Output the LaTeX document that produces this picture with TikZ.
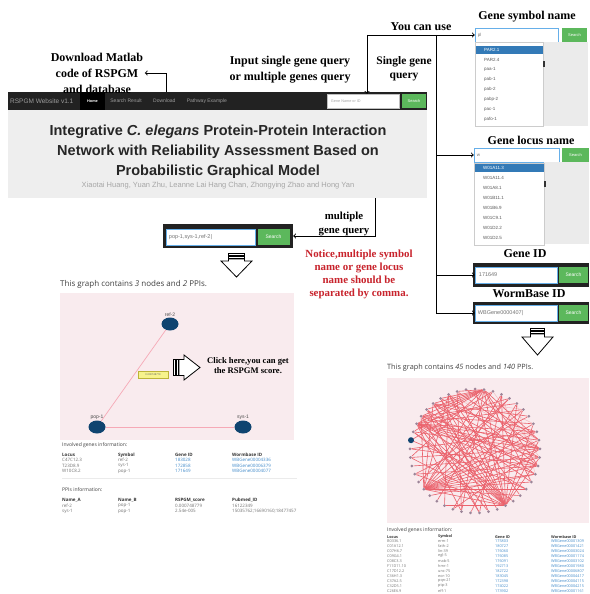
\documentclass[tikz,border=0pt]{standalone}
\usepackage{fontspec}
\setmainfont{Liberation Serif}
\newfontfamily\websans{Liberation Sans}
\newfontfamily\pagesans{Open Sans}
\usepackage{xcolor}
\usetikzlibrary{calc}
\usetikzlibrary{shapes.geometric}
\usetikzlibrary{positioning}

\definecolor{navbg}{HTML}{222222}
\definecolor{navtxt}{HTML}{9D9D9D}
\definecolor{btngreen}{HTML}{5CB85C}
\definecolor{jumbo}{HTML}{EEEEEE}
\definecolor{graphpink}{HTML}{F9EBEE}
\definecolor{nodeblue}{HTML}{0F4470}
\definecolor{smalldot}{HTML}{9C8498}
\definecolor{ppired}{HTML}{E8404C}
\definecolor{edgepink}{HTML}{F6A9B6}
\definecolor{notered}{HTML}{C8232C}
\definecolor{linkblue}{HTML}{428BCA}
\definecolor{pickblue}{HTML}{337AB7}
\definecolor{menugray}{HTML}{EBEBEB}
\definecolor{focusblue}{HTML}{66AFE9}
\definecolor{scoreyellow}{HTML}{F7F38C}

\newcommand{\setfs}[2]{\fontsize{#1}{#2}\selectfont}

\tikzset{
  note/.style={font=\bfseries\setfs{12}{16}, align=center, inner sep=1.5pt},
  link/.style={->, line width=0.9pt},
  navtext/.style={font=\websans\setfs{5}{6}, text=navtxt, inner sep=0pt, anchor=west},
  inputbox/.style={fill=white, draw=focusblue, line width=0.5pt, inner sep=0pt},
  inputtext/.style={font=\websans\setfs{4.5}{5}, text=black!55, inner sep=0pt},
  searchbtn/.style={fill=btngreen, text=white, font=\websans\setfs{4}{5}, inner sep=0pt},
  darkframe/.style={fill=navbg, inner sep=0pt},
  menubox/.style={fill=white, draw=black!20, line width=0.4pt, anchor=north west, inner sep=0pt},
  menuitem/.style={font=\websans\setfs{4.5}{5}, text=black!65, anchor=west, inner sep=0pt},
  panel/.style={fill=graphpink, anchor=north west, inner sep=0pt},
  ppinode/.style={ellipse, fill=nodeblue, minimum width=17pt, minimum height=13pt, inner sep=0pt},
  ppilabel/.style={font=\websans\setfs{5}{6}, text=black!70, inner sep=0.5pt},
  dotnode/.style={circle, fill=smalldot, minimum size=3pt, inner sep=0pt},
  ppiline/.style={ppired!80!graphpink, line width=0.6pt},
  ppifaint/.style={ppired!30!graphpink, line width=0.4pt},
  pagetext/.style={font=\pagesans\setfs{8}{9}, text=black!75, anchor=west, inner sep=0pt},
  tabhead/.style={font=\pagesans\bfseries\setfs{4.5}{5}, text=black!80, anchor=west, inner sep=0pt},
  tabcell/.style={font=\pagesans\setfs{4.5}{5}, text=black!55, anchor=west, inner sep=0pt},
  tablink/.style={tabcell, text=linkblue},
  blockarrow/.style={fill=white, draw=black, line width=0.8pt},
}

\begin{document}
\begin{tikzpicture}[x=1pt, y=-1pt]
\useasboundingbox (0,0) rectangle (589,594);
% Page background and graph panels
\fill[white] (0,0) rectangle (589,594);
\node[panel, minimum width=234pt, minimum height=147pt] (leftpanel) at (60,293) {};
\node[panel, minimum width=202pt, minimum height=145pt] (rightpanel) at (387,378) {};

% Large graph (45 nodes on a ring)
\foreach \gx/\gy [count=\j from 0] in {475/389, 484.0/389.6, 492.9/391.4, 501.4/394.4, 509.4/398.4,
    516.8/403.5, 523.3/409.5, 528.9/416.3, 533.4/423.8, 536.8/431.8, 539.0/440.2, 540.0/448.8,
    539.6/457.5, 538.1/466.0, 535.3/474.2, 531.3/482.0, 526.2/489.2, 520.2/495.6, 513.2/501.2,
    505.5/505.7, 497.2/509.3, 488.5/511.6, 479.5/512.9, 470.5/512.9, 461.5/511.6, 452.8/509.3,
    444.5/505.7, 436.8/501.2, 429.8/495.6, 423.8/489.2, 418.7/482.0, 414.7/474.2, 411.9/466.0,
    410.4/457.5, 410.0/448.8, 411.0/440.2, 413.2/431.8, 416.6/423.8, 421.1/416.3, 426.7/409.5,
    433.2/403.5, 440.6/398.4, 448.6/394.4, 457.1/391.4, 466.0/389.6}
  \node[dotnode] (g\j) at (\gx,\gy) {};
\foreach \a/\b in {0/11,2/12,5/14,44/8,42/10,3/15,41/6,39/2}
  \draw[ppifaint] (g\a) -- (g\b);
\foreach \a/\b in {29/1,29/2,29/4,29/6,29/8,29/9,29/10,29/11,29/12,29/13,29/14,29/15,29/16,29/17,29/19,29/38,29/40,29/42,
    19/1,19/3,19/5,19/0,19/36,19/37,19/38,19/39,19/40,19/41,19/42,19/43,19/33,19/31,19/8,19/10,19/12,19/26,
    1/36,1/37,1/38,1/39,1/40,1/41,1/43,1/10,1/13,1/15,1/24,1/33,
    37/4,37/6,37/9,37/10,37/11,37/12,37/13,37/14,37/16,37/21,37/24,
    38/5,38/8,38/11,38/13,38/22,40/7,40/9,40/12,40/14,40/20,
    11/41,11/36,11/33,11/25,11/43,13/34,13/31,13/42,
    3/27,5/25,7/31,9/34,6/23,15/39,2/35,4/30,21/41,16/35,10/44,24/43,26/42,22/39,18/36,17/42,12/32,3/22,14/28}
  \draw[ppiline] (g\a) -- (g\b);
\node[dotnode, fill=nodeblue, minimum size=6pt] (picked) at (g35) {};
\node[pagetext, font=\pagesans\setfs{7.3}{8}] (bighead) at (387,368) {This graph contains \textit{45} nodes and \textit{140} PPIs.};

% Navigation bar (node)
\node[darkframe, anchor=north west, minimum width=419pt, minimum height=18pt] (navbar) at (8,92) {};
\node[navtext, font=\websans\setfs{6.5}{7}] (brand) at (10,101) {RSPGM Website v1.1};
\node[fill=black, minimum width=25pt, minimum height=18pt, inner sep=0pt, text=white, font=\websans\bfseries\setfs{3.8}{4}] (home) at (92.5,101) {Home};
\node[navtext, right=5pt of home] (navsearch) {Search Result};
\node[navtext, right=11pt of navsearch] (navdown) {Download};
\node[navtext, right=11pt of navdown] (navpath) {Pathway Example};
\node[inputbox, draw=black!25, minimum width=72pt, minimum height=14pt] (topin) at (363,101) {};
\node[inputtext, text=black!35, font=\websans\setfs{3.8}{4}, right=4pt of topin.west] (topph) {Gene Name or ID};
\node[searchbtn, minimum width=24pt, minimum height=14pt] (topbtn) at (414,101) {Search};

% Title panel (node)
\node[fill=jumbo, anchor=north west, minimum width=419pt, minimum height=88pt, inner sep=0pt] (jumbo) at (8,110) {};
\node[font=\websans\bfseries\setfs{14.5}{20}, text=black!85, align=center] (title) at (218,152)
  {Integrative \textit{C. elegans} Protein-Protein Interaction\\Network with Reliability Assessment Based on\\Probabilistic Graphical Model};
\node[font=\websans\setfs{7.5}{8}, text=black!35] (authors) at (218,186)
  {Xiaotai Huang, Yuan Zhu, Leanne Lai Hang Chan, Zhongying Zhao and Hong Yan};

% Notes
\node[note] (dlnote) at (97,73) {Download Matlab\\code of RSPGM\\and database};
\node[note] (inputnote) at (290,70) {Input single gene query\\or multiple genes query};
\node[note, font=\bfseries\setfs{11.5}{14}] (singlenote) at (404,69) {Single gene\\query};
\node[note] (youcan) at (421,27) {You can use};
\node[note, font=\bfseries\setfs{10.8}{14}] (multinote) at (344,224) {multiple\\gene query};
\node[note, font=\bfseries\setfs{10.9}{13}, text=notered] (notice) at (359,274)
  {Notice,multiple symbol\\name or gene locus\\name should be\\separated by comma.};
\node[note, font=\bfseries\setfs{8.6}{10}] (clicknote) at (248,366) {Click here,you can get\\the RSPGM score.};
\node[note] (symtitle) at (527,17) {Gene symbol name};
\node[note] (locustitle) at (531,140) {Gene locus name};
\node[note] (idtitle) at (525,254) {Gene ID};
\node[note] (wbtitle) at (529,294) {WormBase ID};

% Multiple gene search box (node)
\node[darkframe, minimum width=130pt, minimum height=24pt] (multibox) at (228,236) {};
\node[inputbox, minimum width=89pt, minimum height=16pt] (multiin) at (210.5,237) {};
\node[inputtext, font=\websans\setfs{5.5}{6}, right=3pt of multiin.west] (multitext) {pop-1,sys-1,ref-2|};
\node[searchbtn, font=\websans\setfs{5}{6}, minimum width=32pt, minimum height=16pt] (multibtn) at (273.5,237) {Search};

% Gene symbol search with menu (node)
\node[inputbox, minimum width=83pt, minimum height=14pt] (symin) at (516.5,35) {};
\node[inputtext, right=3pt of symin.west] (symtext) {pl};
\node[searchbtn, minimum width=25pt, minimum height=14pt] (symbtn) at (574.5,35) {Search};
\node[fill=menugray, anchor=north west, minimum width=45pt, minimum height=84pt, inner sep=0pt] (symshade) at (543,42) {};
\node[menubox, minimum width=68pt, minimum height=84pt] (symmenu) at (475,42) {};
\node[fill=black!80, minimum width=1.2pt, minimum height=6pt, inner sep=0pt] (symmark) at (544,64) {};
\node[fill=pickblue, anchor=north west, minimum width=67pt, minimum height=8pt, inner sep=0pt] (symhl) at (475.5,45.5) {};
\node[menuitem, text=white] (sym1) at (484,49.5) {PAR2.1};
\foreach \t [count=\k from 2] in {PAR2.4, paa-1, pab-1, pab-2, pabp-2, pac-1, pafo-1}
  \node[menuitem] (sym\k) at (484,39.5+10*\k) {\t};

% Gene locus search with menu (node)
\node[inputbox, minimum width=85pt, minimum height=14pt] (locusin) at (516.5,155) {};
\node[inputtext, right=3pt of locusin.west] (locustext) {w};
\node[searchbtn, minimum width=27pt, minimum height=14pt] (locusbtn) at (575.5,155) {Search};
\node[fill=menugray, anchor=north west, minimum width=45pt, minimum height=82pt, inner sep=0pt] (locusshade) at (544,162) {};
\node[menubox, minimum width=70pt, minimum height=82pt] (locusmenu) at (474,163) {};
\node[fill=black!80, minimum width=1.2pt, minimum height=6pt, inner sep=0pt] (locusmark) at (545,184) {};
\node[fill=pickblue, anchor=north west, minimum width=69pt, minimum height=8pt, inner sep=0pt] (locushl) at (474.5,164) {};
\node[menuitem, text=white] (locus1) at (483,168) {W01A11.3};
\foreach \t [count=\k from 2] in {W01A11.4, W01A8.1, W01B11.1, W01B6.9, W01C9.1, W01D2.2, W01D2.5}
  \node[menuitem] (locus\k) at (483,158+10*\k) {\t};

% Gene ID search (node)
\node[darkframe, minimum width=116pt, minimum height=24pt] (idframe) at (531,275) {};
\node[inputbox, minimum width=82pt, minimum height=16pt] (idin) at (516,275) {};
\node[inputtext, font=\websans\setfs{5.5}{6}, right=4pt of idin.west] (idtext) {171649};
\node[searchbtn, font=\websans\setfs{5}{6}, minimum width=29pt, minimum height=16pt] (idbtn) at (573.5,275) {Search};

% WormBase ID search (node)
\node[darkframe, minimum width=116pt, minimum height=22pt] (wbframe) at (531,313) {};
\node[inputbox, minimum width=82pt, minimum height=16pt] (wbin) at (516,313) {};
\node[inputtext, font=\websans\setfs{5.5}{6}, right=3pt of wbin.west] (wbtext) {WBGene0000407|};
\node[searchbtn, font=\websans\setfs{5}{6}, minimum width=29pt, minimum height=16pt] (wbbtn) at (573.5,313) {Search};

% Connectors
\coordinate (dlfoot) at (166,92);
\draw[link] (dlfoot) |- (dlnote.east);
\coordinate (fork) at (367,35);
\draw[link] (fork) -- (fork |- topin.north);
\draw[link] (fork) -- (symin.west);
\coordinate (trunk) at (436,35);
\draw[link] (trunk) |- (wbin.west);
\draw[link] (trunk |- locusin) -- (locusin.west);
\draw[link] (trunk |- idin) -- (idin.west);
\coordinate (mqtop) at (375,198);
\draw[link] (mqtop) |- (multibox.east);

% Striped block arrows
\begin{scope}[shift={(236.5,253)}]
\draw[blockarrow] (-8,0) rectangle (8,2);
\draw[blockarrow] (-8,3) rectangle (8,5);
\draw[blockarrow] (-8,6) -- (8,6) -- (8,8) -- (15.5,8) -- (0,24) -- (-15.5,8) -- (-8,8) -- cycle;
\end{scope}
\begin{scope}[shift={(537.5,328)}]
\draw[blockarrow] (-7,0) rectangle (7,2);
\draw[blockarrow] (-7,3) rectangle (7,5);
\draw[blockarrow] (-7,6) -- (7,6) -- (7,9) -- (15.5,9) -- (0,27) -- (-15.5,9) -- (-7,9) -- cycle;
\end{scope}
\begin{scope}[shift={(173,367.5)}]
\draw[blockarrow] (0,-8) rectangle (2,8);
\draw[blockarrow] (3,-8) rectangle (5,8);
\draw[blockarrow] (6,-8) -- (11,-8) -- (11,-12.5) -- (27,0) -- (11,12.5) -- (11,8) -- (6,8) -- cycle;
\end{scope}

% Small graph (3 nodes)
\node[pagetext] (smallhead) at (60,284) {This graph contains \textit{3} nodes and \textit{2} PPIs.};
\node[ppinode] (ref2) at (170,324) {};
\node[ppinode] (pop1) at (97,427) {};
\node[ppinode] (sys1) at (243,427) {};
\node[ppilabel, above=0pt of ref2] (ref2lab) {ref-2};
\node[ppilabel, above=0pt of pop1] (pop1lab) {pop-1};
\node[ppilabel, above=0pt of sys1] (sys1lab) {sys-1};
\draw[edgepink, line width=0.7pt] (ref2) -- (pop1);
\draw[edgepink, line width=0.7pt] (pop1) -- (sys1);
\node[fill=scoreyellow, draw=yellow!70!black, line width=0.2pt, minimum width=30pt, minimum height=7pt, inner sep=0pt,
  font=\websans\setfs{2.6}{3}, text=black!60] (score) at (153,374.5) {0.000748779};

% Small graph tables
\node[pagetext, font=\pagesans\setfs{5}{6}] (geneinfo) at (62,445) {Involved genes information:};
\node[tabhead] (hlocus) at (62,455) {Locus};
\node[tabhead] (hsymbol) at (118,455) {Symbol};
\node[tabhead] (hgeneid) at (175,455) {Gene ID};
\node[tabhead] (hwb) at (232,455) {Wormbase ID};
\foreach \loc/\sym/\gid/\wb [count=\n] in {C47C12.3/ref-2/183028/WBGene00004336,
    T23D8.9/sys-1/172858/WBGene00006379, W10C8.2/pop-1/171649/WBGene00004077} {
  \node[tabcell] (tloc\n) at (62,454.5+5.5*\n) {\loc};
  \node[tabcell] (tsym\n) at (118,454.5+5.5*\n) {\sym};
  \node[tablink] (tgid\n) at (175,454.5+5.5*\n) {\gid};
  \node[tablink] (twb\n) at (232,454.5+5.5*\n) {\wb};
}
\draw[black!8, line width=0.5pt] (62,478) -- (297,478);
\node[pagetext, font=\pagesans\setfs{5}{6}] (ppiinfo) at (62,490) {PPIs information:};
\node[tabhead] (hnamea) at (62,500) {Name\_A};
\node[tabhead] (hnameb) at (118,500) {Name\_B};
\node[tabhead] (hscore) at (175,500) {RSPGM\_score};
\node[tabhead] (hpubmed) at (232,500) {Pubmed\_ID};
\node[tabcell] (na1) at (62,505.5) {ref-2};
\node[tabcell] (nb1) at (118,505.5) {pop-1};
\node[tabcell] (sc1) at (175,505.5) {0.000748779};
\node[tabcell] (pm1) at (232,505.5) {16122349};
\node[tabcell] (na2) at (62,511) {sys-1};
\node[tabcell] (nb2) at (118,511) {pop-1};
\node[tabcell] (sc2) at (175,511) {2.54e-005};
\node[tabcell] (pm2) at (232,511) {15035762;16690160;18477457};

% Large graph table
\node[pagetext, font=\pagesans\setfs{5}{6}] (biginfo) at (387,530) {Involved genes information:};
\node[tabhead, font=\pagesans\bfseries\setfs{3.8}{4}] (blocus) at (387,537) {Locus};
\node[tabhead, font=\pagesans\bfseries\setfs{3.8}{4}] (bsymbol) at (438,537) {Symbol};
\node[tabhead, font=\pagesans\bfseries\setfs{3.8}{4}] (bgeneid) at (495,537) {Gene ID};
\node[tabhead, font=\pagesans\bfseries\setfs{3.8}{4}] (bwb) at (551,537) {Wormbase ID};
\foreach \loc/\sym/\gid/\wb [count=\n] in {B0336.1/erm-1/175803/WBGene00001309,
    C01A12.1/fath-2/180727/WBGene00001421, C07H6.7/lin-39/176060/WBGene00003024,
    C09G4.1/egl-5/176085/WBGene00001174, C08C3.3/mab-5/176091/WBGene00003102,
    F11D11.10/hmr-1/192713/WBGene00001980, C17D12.2/unc-75/182722/WBGene00006807,
    C36H1.3/eor-10/183045/WBGene00004417, C37A2.5/pqn-21/172398/WBGene00004115,
    C32D5.1/ptp-3/174022/WBGene00004215, C26E6.9/eff-1/173902/WBGene00001161} {
  \node[tabcell, font=\pagesans\setfs{3.8}{4}] (bloc\n) at (387,536+5*\n) {\loc};
  \node[tabcell, font=\pagesans\setfs{3.8}{4}] (bsym\n) at (438,536+5*\n) {\sym};
  \node[tablink, font=\pagesans\setfs{3.8}{4}] (bgid\n) at (495,536+5*\n) {\gid};
  \node[tablink, font=\pagesans\setfs{3.8}{4}] (bwb\n) at (551,536+5*\n) {\wb};
}
\end{tikzpicture}
\end{document}
